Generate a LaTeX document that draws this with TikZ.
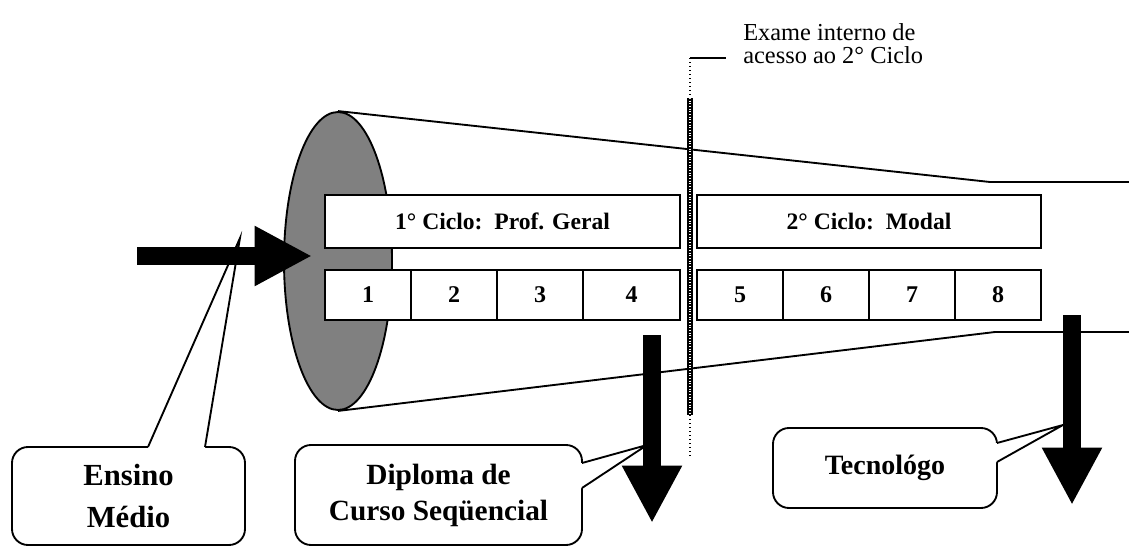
\documentclass[tikz,border=0pt]{standalone}
\usepackage{fontspec}
\setmainfont{Liberation Serif}
\usetikzlibrary{arrows.meta,positioning,calc,shapes.geometric}

\begin{document}
\begin{tikzpicture}[x=0.75pt,y=-0.75pt,
  box/.style={draw,line width=1.4pt,fill=white,inner sep=0pt,outer sep=0pt,anchor=north west,font=\bfseries\fontsize{17.7}{20}\selectfont},
  semestre/.style={box,minimum width=64.5pt,minimum height=37.5pt,font=\bfseries\fontsize{18}{20}\selectfont},
  balao/.style={draw,line width=1.4pt,fill=white,rounded corners=12pt,align=center,inner sep=0pt,outer sep=0pt,anchor=north west,font=\bfseries\fontsize{22}{27}\selectfont},
  cauda/.style={line width=1.4pt,line join=miter},
  seta/.style={line width=13pt,-{Triangle[length=43pt,width=42pt]}}]
\useasboundingbox (0,0) rectangle (1129,546);

% cone
\node[ellipse,draw,line width=1.4pt,fill=black!50,minimum width=81pt,minimum height=223.5pt,inner sep=0pt] (entrada) at (338,261) {};
\draw[line width=1.4pt] (entrada.north) -- (990,182) -- (1129,182);
\draw[line width=1.4pt] (entrada.south) -- (995,332) -- (1129,332);

% ciclos
\node[box,minimum width=266.25pt,minimum height=39.75pt] (ciclo1) at (325,195) {1° Ciclo:\ \ Prof. Geral};
\node[semestre] (s1) at (325,270) {1};
\node[semestre,right=0pt of s1] (s2) {2};
\node[semestre,right=0pt of s2] (s3) {3};
\node[semestre,right=0pt of s3,minimum width=72.75pt] (s4) {4};
\node[box,minimum width=258pt,minimum height=39.75pt] (ciclo2) at (697,195) {2° Ciclo:\ \ Modal};
\node[semestre] (s5) at (697,270) {5};
\node[semestre,right=0pt of s5] (s6) {6};
\node[semestre,right=0pt of s6] (s7) {7};
\node[semestre,right=0pt of s7] (s8) {8};

% baloes
\node[balao,minimum width=174.75pt,minimum height=73.5pt,font=\bfseries\fontsize{23}{31}\selectfont] (ensino) at (12,447) {Ensino\\Médio};
\coordinate (ensinoptr) at (240,238);
\fill[white] ($(ensino.north west)+(136,0)$) -- (ensinoptr) -- ($(ensino.north west)+(193,0)$) -- ++(0,3) -- ($(ensino.north west)+(136,3)$) -- cycle;
\draw[cauda] ($(ensino.north west)+(136,0)$) -- (ensinoptr) -- ($(ensino.north west)+(193,0)$);

\node[balao,minimum width=215.25pt,minimum height=75pt] (diploma) at (295,445) {Diploma de\\Curso Seqüencial};
\coordinate (diplomaptr) at (647,445);
\fill[white] ($(diploma.north east)+(0,18)$) -- (diplomaptr) -- ($(diploma.north east)+(0,43)$) -- ++(-3,0) -- ($(diploma.north east)+(-3,18)$) -- cycle;
\draw[cauda] ($(diploma.north east)+(0,18)$) -- (diplomaptr) -- ($(diploma.north east)+(0,43)$);

\node[balao,minimum width=168pt,minimum height=60pt,font=\bfseries\fontsize{21}{25}\selectfont] (tecno) at (773,428) {\raisebox{5pt}{Tecnológo}};
\coordinate (tecnoptr) at (1063,425);
\fill[white] ($(tecno.north east)+(0,15)$) -- (tecnoptr) -- ($(tecno.north east)+(0,34)$) -- ++(-3,0) -- ($(tecno.north east)+(-3,15)$) -- cycle;
\draw[cauda] ($(tecno.north east)+(0,15)$) -- (tecnoptr) -- ($(tecno.north east)+(0,34)$);

% exame
\coordinate (topo) at (690,58);
\coordinate (fundo) at (690,457);
\draw[line width=4.5pt] (690,98) -- (690,415);
\draw[white,line width=1pt,dash pattern=on 0.7pt off 1.3pt] (690,98) -- (690,415);
\draw[dotted,line width=1pt] (topo) -- (690,98) (690,415) -- (fundo);
\draw[line width=1pt] (topo) -- ++(36,0);
\node[align=left,anchor=south west,inner sep=0pt,font=\fontsize{18.3}{17.5}\selectfont] (exame) at (743,64) {Exame interno de\\acesso ao 2° Ciclo};

% setas
\draw[seta] (137,256) -- (312,256);
\draw[seta] (652,335) -- (652,523);
\draw[seta] (1072,315) -- (1072,505);
\end{tikzpicture}
\end{document}
